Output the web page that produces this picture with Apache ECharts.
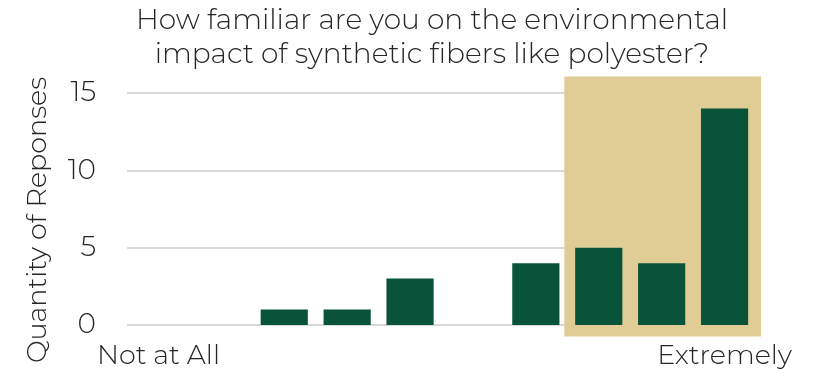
<!DOCTYPE html>
<html>
<head>
<meta charset="utf-8">
<style>
  html, body { margin: 0; padding: 0; background: #ffffff; }
  #chart { width: 818px; height: 377px; }
</style>
<script src="https://cdn.jsdelivr.net/npm/echarts@6/dist/echarts.min.js"></script>
</head>
<body>
<div id="chart"></div>
<script>
// Familiarity scale 1..10, only the two ends are labelled
const categories = ['1', '2', '3', '4', '5', '6', '7', '8', '9', '10'];
const tickLabels = ['Not at All', '', '', '', '', '', '', '', '', 'Extremely'];
const responses = [0, 0, 1, 1, 3, 0, 4, 5, 4, 14];
const yTicks = [0, 5, 10, 15];

// Shaded band behind the top three scale points
const highlightFrom = 7;     // category index
const highlightTo = 9;       // category index
const highlightLow = -0.75;  // value units
const highlightHigh = 16.07; // value units

const FONT = 'Montserrat, Lato, "Open Sans", sans-serif';
const TEXT = '#262626';

const chart = echarts.init(document.getElementById('chart'), null, { renderer: 'canvas' });

chart.setOption({
  animation: false,
  backgroundColor: '#ffffff',
  title: {
    text: 'How familiar are you on the environmental\nimpact of synthetic fibers like polyester?',
    left: 427,
    textAlign: 'center',
    top: -1,
    textStyle: {
      fontFamily: FONT,
      fontWeight: 300,
      fontSize: 28,
      lineHeight: 34,
      color: TEXT
    }
  },
  grid: { left: 127, right: 62, top: 93, bottom: 52, containLabel: false },
  xAxis: {
    type: 'category',
    data: categories,
    axisLine: { show: false },
    axisTick: { show: false },
    axisLabel: {
      interval: 0,
      margin: 18,
      fontFamily: FONT,
      fontWeight: 300,
      fontSize: 27,
      color: TEXT,
      formatter: (v, i) => tickLabels[i]
    }
  },
  yAxis: {
    type: 'value',
    min: 0,
    max: 15,
    interval: 5,
    name: 'Quantity of Reponses',
    nameLocation: 'middle',
    nameGap: 75,
    nameTextStyle: {
      fontFamily: FONT,
      fontWeight: 300,
      fontSize: 27,
      color: TEXT,
      padding: [0, 22, 0, 0]
    },
    axisLine: { show: false },
    axisTick: { show: false },
    splitLine: { lineStyle: { color: '#d9d9d9', width: 2 } },
    axisLabel: {
      margin: 31,
      fontFamily: FONT,
      fontWeight: 300,
      fontSize: 28,
      color: TEXT,
      formatter: v => (yTicks.indexOf(v) >= 0 ? String(v) : '')
    }
  },
  series: [{
    type: 'bar',
    data: responses,
    barCategoryGap: '25%',
    itemStyle: { color: '#08533a' },
    z: 3
  }]
});

// Place the shaded band using the chart's own scales
function drawHighlight() {
  const a = chart.convertToPixel({ gridIndex: 0 }, [highlightFrom, highlightHigh]);
  const b = chart.convertToPixel({ gridIndex: 0 }, [highlightTo, highlightLow]);
  const band = chart.convertToPixel({ gridIndex: 0 }, [1, 0])[0] - chart.convertToPixel({ gridIndex: 0 }, [0, 0])[0];
  const x0 = a[0] - band / 2 - 3;
  const x1 = b[0] + band / 2 + 5;
  chart.setOption({
    graphic: [{
      type: 'rect',
      z: 0,
      zlevel: 0,
      silent: true,
      shape: { x: x0, y: a[1], width: x1 - x0, height: b[1] - a[1] },
      style: { fill: '#dfcd95' }
    }]
  });
}
drawHighlight();
</script>
</body>
</html>
